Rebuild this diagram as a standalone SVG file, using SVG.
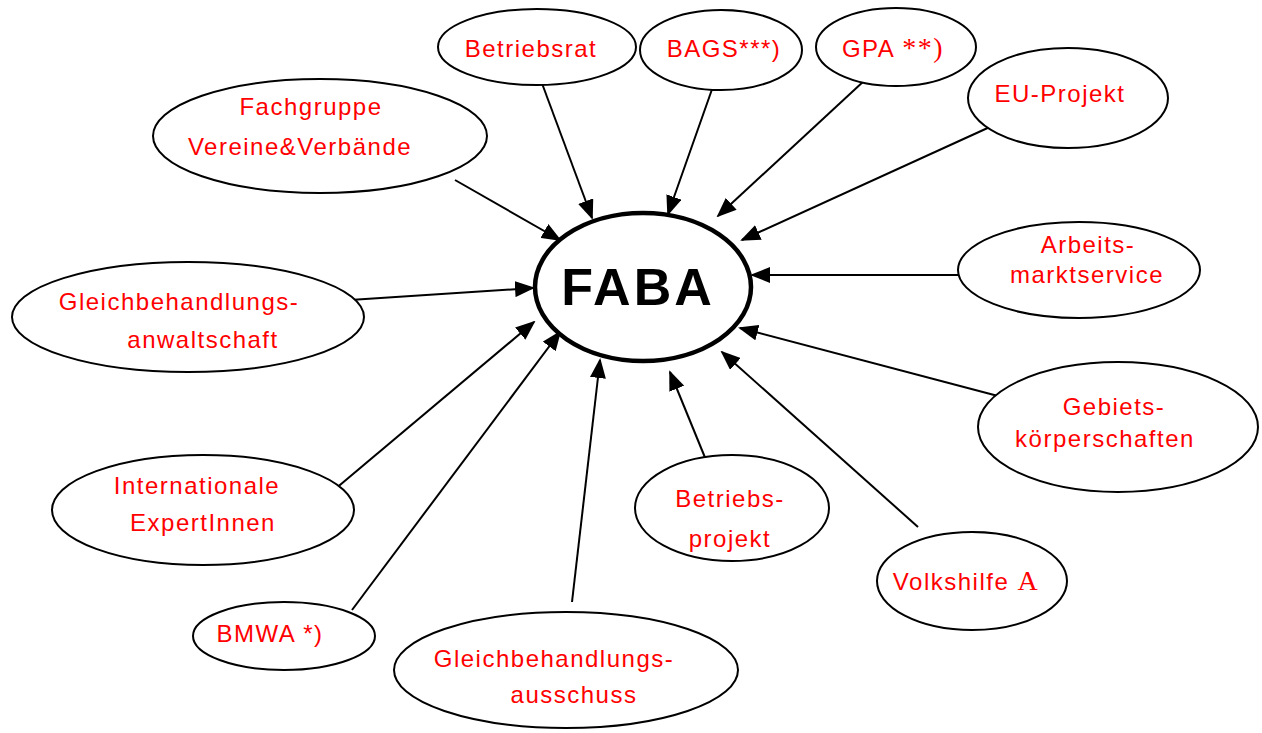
<svg xmlns="http://www.w3.org/2000/svg" width="1262" height="733" viewBox="0 0 1262 733">
<style>
.n{fill:#fff;stroke:#000;stroke-width:2}
.t{font-family:"Liberation Sans",Arial,sans-serif;font-size:24px;letter-spacing:1.5px;fill:#ff0000;text-anchor:middle}
.s{font-family:"Liberation Serif","Times New Roman",serif;font-size:28px}
.c line{stroke:#000;stroke-width:2;marker-end:url(#ah)}
</style>
<defs>
<marker id="ah" viewBox="0 0 20 16" refX="18" refY="8" markerWidth="20" markerHeight="16" markerUnits="userSpaceOnUse" orient="auto">
<path d="M0,0 L20,8 L0,16 Z" fill="#000"/>
</marker>
</defs>
<rect width="1262" height="733" fill="#fff"/>
<g class="c" id="connectors">
<line x1="455" y1="180" x2="560" y2="240"/>
<line x1="540" y1="78" x2="592" y2="218"/>
<line x1="716" y1="78" x2="668" y2="214"/>
<line x1="865" y1="80" x2="718" y2="216"/>
<line x1="992" y1="126" x2="742" y2="240"/>
<line x1="958" y1="275" x2="752" y2="275"/>
<line x1="350" y1="300" x2="533" y2="288"/>
<line x1="998" y1="396" x2="740" y2="328"/>
<line x1="334" y1="490" x2="534" y2="322"/>
<line x1="918" y1="527" x2="722" y2="352"/>
<line x1="706" y1="460" x2="670" y2="372"/>
<line x1="352" y1="610" x2="560" y2="332"/>
<line x1="572" y1="602" x2="600" y2="360"/>
</g>
<g id="faba"><ellipse cx="643" cy="287" rx="108" ry="74" fill="#fff" stroke="#000" stroke-width="4.5"/>
<text x="638" y="305" font-family="'Liberation Sans',Arial,sans-serif" font-size="52" font-weight="bold" letter-spacing="3" text-anchor="middle">FABA</text></g>
<g id="betriebsrat"><ellipse class="n" cx="537" cy="47" rx="99" ry="38"/><text class="t" x="531" y="57">Betriebsrat</text></g>
<g id="bags"><ellipse class="n" cx="721" cy="50" rx="81" ry="40"/><text class="t" x="724" y="57">BAGS***)</text></g>
<g id="gpa"><ellipse class="n" cx="896" cy="47" rx="80" ry="39"/><text class="t" x="893" y="57">GPA <tspan class="s">**)</tspan></text></g>
<g id="eu"><ellipse class="n" cx="1068" cy="98" rx="100" ry="50"/><text class="t" x="1060" y="102">EU-Projekt</text></g>
<g id="fachgruppe"><ellipse class="n" cx="320" cy="136" rx="167" ry="57"/><text class="t" x="311" y="115">Fachgruppe</text><text class="t" x="300" y="155">Vereine&amp;Verbände</text></g>
<g id="ams"><ellipse class="n" cx="1079" cy="270" rx="121" ry="48"/><text class="t" x="1088" y="253">Arbeits-</text><text class="t" x="1087" y="283">marktservice</text></g>
<g id="gbaw"><ellipse class="n" cx="188" cy="317" rx="176" ry="55"/><text class="t" x="179" y="310">Gleichbehandlungs-</text><text class="t" x="203" y="348">anwaltschaft</text></g>
<g id="gebiets"><ellipse class="n" cx="1118" cy="427" rx="140" ry="65"/><text class="t" x="1114" y="415">Gebiets-</text><text class="t" x="1105" y="447">körperschaften</text></g>
<g id="intl"><ellipse class="n" cx="203" cy="510" rx="151" ry="55"/><text class="t" x="197" y="494">Internationale</text><text class="t" x="203" y="531">ExpertInnen</text></g>
<g id="betriebsprojekt"><ellipse class="n" cx="732" cy="508" rx="97" ry="53"/><text class="t" x="730" y="507">Betriebs-</text><text class="t" x="730" y="547">projekt</text></g>
<g id="volkshilfe"><ellipse class="n" cx="972" cy="581" rx="95" ry="49"/><text class="t" x="966" y="590">Volkshilfe <tspan class="s">A</tspan></text></g>
<g id="bmwa"><ellipse class="n" cx="284" cy="636" rx="91" ry="34"/><text class="t" x="270" y="642">BMWA *)</text></g>
<g id="gbas"><ellipse class="n" cx="566" cy="670" rx="172" ry="58"/><text class="t" x="554" y="667">Gleichbehandlungs-</text><text class="t" x="574" y="703">ausschuss</text></g>
</svg>
